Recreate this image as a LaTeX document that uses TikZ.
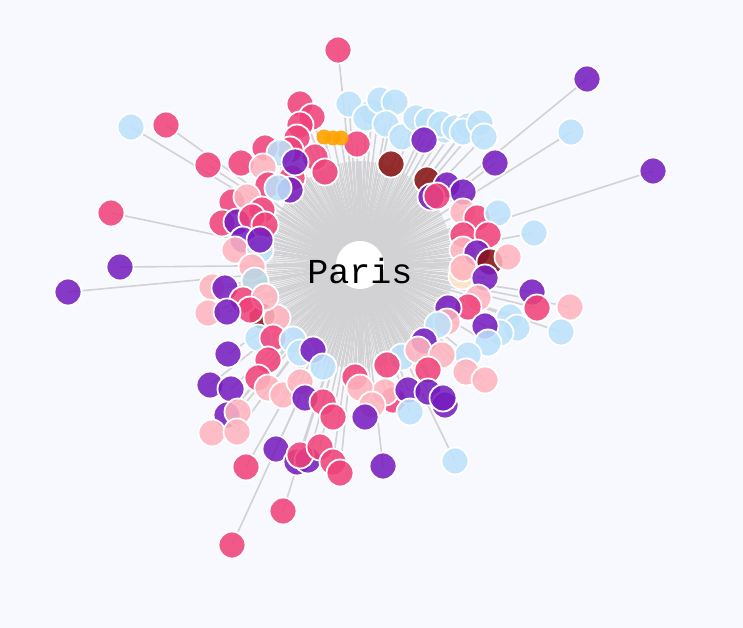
\documentclass[tikz,border=0pt]{standalone}
\usepackage{fontspec}
\usepackage{tikz}
\usepackage{xcolor}
\newfontfamily\cityfont{Liberation Mono}

\definecolor{bgpaper}{RGB}{248,249,254}
\definecolor{spokegray}{RGB}{210,210,212}
\definecolor{pkcol}{RGB}{240,66,122}
\definecolor{lpcol}{RGB}{255,180,190}
\definecolor{pucol}{RGB}{118,28,190}
\definecolor{lbcol}{RGB}{188,226,250}
\definecolor{drcol}{RGB}{135,18,18}
\definecolor{orcol}{RGB}{255,163,0}
\definecolor{crcol}{RGB}{255,228,196}
\definecolor{gbcol}{RGB}{186,214,226}

\tikzset{
  spoke/.style={spokegray, line width=1.6pt},
  finespoke/.style={spokegray, line width=1.1pt},
  dot/.style={draw=white, line width=1.8pt, fill opacity=0.87},
  pk/.style={dot, fill=pkcol},
  lp/.style={dot, fill=lpcol},
  pu/.style={dot, fill=pucol},
  lb/.style={dot, fill=lbcol},
  dr/.style={dot, fill=drcol},
  cr/.style={dot, fill=crcol},
  gb/.style={dot, fill=gbcol},
}

% x/y/style of every dot, in screen pixels
\newcommand{\parisdots}{%
  338/50/pk,
  300/104/pk, 312/117/pk, 300/125/pk, 297/138/pk, 290/150/pk, 265/148/pk,
  315/157/pk, 325/172/pk, 292/178/pk, 280/153/lb, 295/162/pu, 357/144/pk,
  349/104/lb, 372/112/lb, 366/118/lb, 380/100/lb, 395/102/lb, 386/124/lb,
  402/137/lb, 416/118/lb, 428/121/lb, 445/130/lb, 441/124/lb, 455/128/lb,
  468/126/lb, 463/132/lb, 480/123/lb, 484/137/lb, 424/140/pu,
  391/164/dr, 427/180/dr,
  587/79/pu, 571/132/lb, 653/171/pu, 495/163/pu, 534/233/lb,
  447/185/pu, 463/192/pu, 431/197/pu, 437/196/pk,
  463/212/lp, 477/218/pk, 498/213/lb,
  463/235/pk, 488/235/pk, 463/250/lp, 477/253/pu, 490/262/dr, 508/257/lp,
  462/276/cr, 463/268/lp, 485/278/pu, 478/298/lp, 468/307/pk, 448/308/pu,
  532/292/pu, 537/308/pk, 570/307/lp,
  510/317/lb, 517/328/lb, 561/332/lb, 500/333/lb,
  447/322/lp, 438/325/lb, 485/326/pu, 488/343/lb, 468/355/lb,
  424/341/pu, 402/357/lb, 418/350/lp, 442/355/lp, 387/365/pk, 428/370/pk,
  466/372/lp, 485/380/lp,
  393/400/pk, 385/392/lp, 408/390/pu, 428/392/pu, 445/405/pu, 443/398/pu,
  410/412/lb,
  355/377/pk, 360/388/lp, 372/405/lp, 365/417/pu,
  383/466/pu, 455/461/lb,
  262/316/dr, 277/318/lp,
  258/338/lb, 273/338/pk, 293/340/lb, 300/353/lb, 313/350/pu, 323/367/lb,
  268/360/pk, 258/378/pk, 268/388/lp, 283/395/lp, 300/382/lp, 305/398/pu,
  323/402/pk, 333/417/pk,
  228/354/pu, 210/385/pu, 231/389/pu, 227/415/pu, 238/412/lp, 212/433/lp,
  237/432/lp,
  276/449/pu, 246/467/pk, 297/462/pu, 308/460/pu, 300/455/pk, 320/447/pk,
  333/462/pk, 340/473/pk, 283/511/pk, 232/545/pk,
  131/127/lb, 166/125/pk, 208/165/pk, 241/163/pk, 263/167/lp,
  268/185/pk, 290/190/pu, 278/188/lb,
  232/202/pk, 247/197/lp, 262/210/pk,
  222/223/pk, 237/222/pu, 252/217/pk, 265/225/pk,
  243/240/pu, 235/250/lp, 260/250/lb, 260/240/pu,
  111/213/pk, 120/267/pu, 68/292/pu,
  252/267/lp, 255/281/gb,
  212/287/lp, 225/288/pu, 243/300/pk, 265/297/lp, 250/310/pk,
  208/313/lp, 227/312/pu%
}

\begin{document}
\begin{tikzpicture}[x=1pt, y=-1pt]
  \fill[bgpaper] (0,0) rectangle (743,628);
  \useasboundingbox (0,0) rectangle (743,628);

  \coordinate (c) at (360,265);

  % dense fan of short spokes under the ring
  \foreach \a in {0,1.2,...,358.8} {
    \draw[finespoke] (c) -- ++({93*cos(\a)},{104*sin(\a)});
  }

  % one spoke per dot, dots on top
  \foreach \x/\y/\s in \parisdots {
    \draw[spoke] (c) -- (\x,\y);
  }
  \foreach \x/\y in {324/137, 333/138, 341/138} {
    \draw[spoke] (c) -- (\x,\y);
  }

  \foreach \x/\y/\s in \parisdots {
    \path[\s] (\x,\y) circle (13.5pt);
  }

  % small orange ones
  \foreach \x/\y in {324/137, 333/138, 341/138} {
    \fill[orcol, fill opacity=0.9] (\x,\y) circle (7.5pt);
  }

  % hub
  \fill[white] (c) circle (24pt);
  \node[font=\cityfont\fontsize{35}{40}\selectfont, anchor=base, inner sep=0pt]
    (paris) at (360,283) {Paris};
\end{tikzpicture}
\end{document}
